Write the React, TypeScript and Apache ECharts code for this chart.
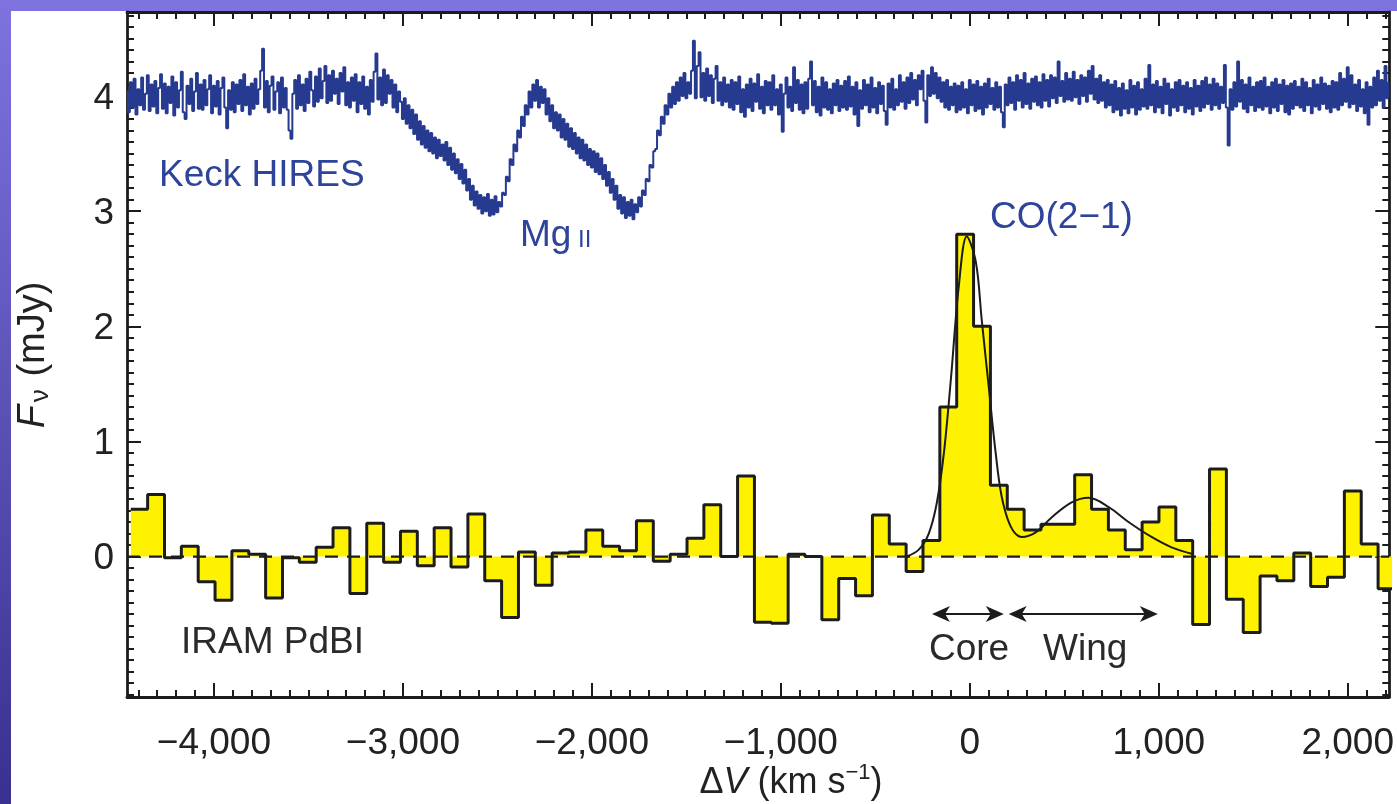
import React, { useEffect, useRef } from 'react';
import * as echarts from 'echarts';

// ---- axis ranges & ticks ----
const X_MIN = -4460;
const X_MAX = 2220;
const Y_MIN = -1.22;
const Y_MAX = 4.73;
const xMajorTicks = [-4000, -3000, -2000, -1000, 0, 1000, 2000];
const yMajorTicks = [0, 1, 2, 3, 4];

// ---- Keck HIRES spectrum (mJy, offset), sampled every 10 km/s from -4460 ----
const hiresStart = -4460;
const hiresStep = 10;
const hiresFlux = [
  4.04, 3.86, 4.12, 3.90, 4.15, 3.84, 4.06, 3.92, 4.16, 3.88, 4.02, 4.18, 3.87, 4.10, 3.91, 4.13, 3.85, 4.07, 4.19, 3.89,
  4.11, 3.85, 4.08, 3.94, 4.17, 3.83, 4.12, 3.90, 4.05, 4.21, 3.86, 3.80, 4.09, 3.93, 4.15, 3.87, 4.04, 4.20, 3.89, 4.10,
  3.88, 4.14, 3.92, 4.06, 4.18, 3.85, 4.09, 3.91, 4.13, 3.84, 4.07, 4.16, 3.90, 3.72, 4.05, 3.88, 4.12, 3.86, 4.10, 3.93,
  4.14, 3.87, 4.19, 3.92, 4.08, 3.84, 4.11, 3.89, 4.15, 3.93, 4.06, 4.22, 4.41, 3.90, 4.13, 3.86, 4.09, 4.17, 3.88, 4.04,
  4.12, 3.85, 4.16, 3.90, 4.07, 3.88, 3.70, 3.63, 4.02, 4.14, 3.89, 4.18, 3.92, 4.10, 3.87, 4.15, 3.94, 4.21, 4.05, 3.91,
  4.17, 3.95, 4.24, 3.98, 4.13, 4.26, 3.94, 4.18, 3.96, 4.22, 4.02, 4.15, 3.93, 4.20, 4.04, 4.25, 3.92, 4.12, 3.90, 4.16,
  3.96, 4.19, 3.86, 4.12, 3.93, 4.17, 3.89, 4.08, 3.84, 4.14, 3.95, 4.21, 4.37, 3.97, 4.16, 3.92, 4.23, 3.94, 4.18, 4.02,
  4.14, 3.90, 4.10, 3.86, 4.04, 3.95, 3.80, 3.98, 3.76, 3.92, 3.72, 3.88, 3.67, 3.84, 3.62, 3.78, 3.58, 3.74, 3.55, 3.70,
  3.52, 3.68, 3.50, 3.64, 3.46, 3.62, 3.48, 3.58, 3.44, 3.60, 3.40, 3.55, 3.36, 3.50, 3.33, 3.45, 3.28, 3.41, 3.24, 3.36,
  3.18, 3.28, 3.10, 3.22, 3.05, 3.17, 3.02, 3.14, 2.98, 3.12, 3.00, 3.15, 2.96, 3.10, 2.97, 3.13, 2.99, 3.08, 3.04, 3.16,
  3.14, 3.30, 3.26, 3.45, 3.40, 3.58, 3.52, 3.70, 3.64, 3.82, 3.74, 3.92, 3.84, 4.04, 3.90, 4.10, 3.96, 4.14, 3.90, 4.08,
  3.94, 4.06, 3.84, 3.98, 3.78, 3.92, 3.72, 3.86, 3.70, 3.84, 3.64, 3.80, 3.62, 3.76, 3.56, 3.72, 3.54, 3.68, 3.50, 3.64,
  3.46, 3.62, 3.44, 3.58, 3.40, 3.54, 3.38, 3.52, 3.34, 3.50, 3.32, 3.46, 3.28, 3.40, 3.22, 3.34, 3.16, 3.28, 3.10, 3.22,
  3.02, 3.14, 2.98, 3.12, 2.94, 3.08, 2.96, 3.10, 2.93, 3.06, 2.99, 3.12, 3.04, 3.18, 3.14, 3.28, 3.26, 3.40, 3.38, 3.52,
  3.54, 3.70, 3.66, 3.82, 3.76, 3.92, 3.84, 4.02, 3.90, 4.08, 3.93, 4.12, 3.96, 4.16, 4.00, 4.20, 3.98, 4.12, 4.02, 4.22,
  4.48, 3.98, 4.26, 4.38, 3.99, 4.20, 3.96, 4.24, 4.00, 4.18, 3.94, 4.15, 4.26, 3.96, 4.12, 3.92, 4.16, 3.95, 4.10, 3.90,
  4.14, 3.88, 4.12, 3.93, 4.17, 3.86, 4.06, 3.82, 4.10, 3.90, 4.15, 3.87, 4.11, 3.95, 4.19, 3.89, 4.08, 3.85, 4.13, 3.92,
  4.12, 3.88, 4.18, 3.92, 4.06, 3.84, 4.10, 3.69, 4.02, 4.16, 3.90, 4.08, 3.87, 4.25, 3.94, 4.14, 3.88, 4.10, 3.85, 4.12,
  3.89, 4.15, 4.30, 3.92, 4.13, 3.86, 4.08, 3.83, 4.16, 3.90, 4.12, 3.88, 4.06, 3.85, 4.11, 3.92, 4.14, 3.87, 4.09, 3.90,
  4.13, 3.88, 4.17, 3.91, 4.08, 3.84, 4.12, 3.74, 4.05, 3.89, 4.14, 3.92, 4.10, 3.86, 4.16, 3.90, 4.07, 3.85, 4.12, 3.93,
  4.09, 3.87, 3.75, 4.11, 3.90, 4.15, 3.88, 4.06, 3.92, 4.18, 3.95, 4.12, 3.89, 4.16, 3.94, 4.20, 3.97, 4.14, 3.92, 4.18,
  4.06, 4.22, 3.96, 3.77, 4.18, 4.00, 4.25, 4.02, 4.20, 3.98, 4.16, 3.95, 4.12, 3.90, 4.14, 3.88, 4.08, 3.92, 4.11, 3.86,
  4.09, 3.88, 4.12, 3.90, 4.06, 3.85, 4.14, 3.92, 4.10, 3.87, 4.13, 3.89, 4.08, 3.84, 4.11, 3.90, 4.15, 3.93, 4.07, 3.88,
  4.12, 3.90, 4.08, 3.86, 3.73, 4.10, 3.92, 4.16, 3.94, 4.12, 3.88, 4.18, 3.96, 4.14, 3.90, 4.20, 3.93, 4.11, 3.89, 4.15,
  3.95, 4.17, 3.92, 4.12, 3.90, 4.19, 3.96, 4.14, 3.91, 4.18, 3.98, 4.16, 3.94, 4.30, 4.00, 4.13, 3.95, 4.20, 3.97, 4.15,
  3.96, 4.21, 3.99, 4.14, 3.93, 4.18, 4.00, 4.16, 3.95, 4.22, 4.02, 4.26, 3.97, 4.15, 3.94, 4.18, 3.96, 4.12, 3.90, 4.14,
  3.92, 4.10, 3.86, 4.13, 3.88, 4.07, 3.83, 4.11, 3.89, 4.05, 3.85, 4.14, 3.90, 4.09, 3.84, 4.12, 3.88, 4.06, 3.91, 4.15,
  3.89, 4.27, 3.92, 4.10, 3.86, 4.13, 3.90, 4.08, 3.85, 4.15, 3.93, 4.11, 3.83, 4.06, 3.90, 4.12, 3.87, 4.14, 3.92, 4.09,
  3.86, 4.12, 3.89, 4.07, 3.84, 4.14, 3.91, 4.09, 3.87, 4.13, 3.90, 4.16, 3.93, 4.10, 3.88, 4.15, 3.92, 4.11, 3.89, 4.08,
  3.94, 4.27, 3.90, 3.57, 4.06, 3.88, 4.12, 3.91, 4.30, 3.95, 4.14, 3.89, 4.10, 3.86, 4.16, 3.92, 4.08, 3.87, 4.12, 3.90,
  4.13, 3.88, 4.16, 3.91, 4.08, 3.85, 4.12, 3.90, 4.15, 3.87, 4.10, 3.93, 4.14, 3.86, 4.09, 3.84, 4.11, 3.89, 4.13, 3.92,
  4.08, 3.90, 4.15, 3.87, 4.12, 3.92, 4.07, 3.85, 4.14, 3.91, 4.10, 3.88, 4.16, 3.93, 4.11, 3.89, 4.09, 3.86, 4.13, 3.90,
  4.12, 3.88, 4.20, 3.92, 4.15, 3.95, 4.25, 3.90, 4.18, 3.93, 4.10, 3.87, 4.14, 3.91, 4.06, 3.85, 4.12, 3.75, 4.08, 3.90,
  4.16, 3.92, 4.22, 3.96, 4.14, 3.90, 4.26, 3.98, 4.12,
];

// ---- IRAM PdBI CO(2-1) channels: first channel edge and width (km/s) ----
const pdbiStart = -4440;
const pdbiWidth = 89.2;
const pdbiFlux = [
  0.41, 0.54, -0.01, 0.09, -0.22, -0.38, 0.05, 0.02, -0.36, -0.01,
  -0.05, 0.08, 0.25, -0.32, 0.29, -0.05, 0.22, -0.08, 0.25, -0.09,
  0.37, -0.21, -0.53, 0.04, -0.25, 0.03, 0.04, 0.23, 0.09, 0.05,
  0.31, -0.04, 0.02, 0.16, 0.45, 0.0, 0.70, -0.57, -0.58, 0.02,
  0.0, -0.55, -0.19, -0.34, 0.36, 0.11, -0.13, 0.14, 1.30, 2.80,
  2.00, 0.62, 0.41, 0.23, 0.28, 0.28, 0.71, 0.41, 0.23, 0.06,
  0.30, 0.43, 0.14, -0.59, 0.76, -0.37, -0.66, -0.17, -0.21, 0.03,
  -0.26, -0.18, 0.57, 0.11, -0.28,
];

// ---- two-component fit curve ----
const fitVelocity = [-333, -270, -217, -174, -137, -100, -58, -16, 32, 63, 100, 137, 169, 217, 275, 349, 433, 539, 629, 735, 840, 962, 1068, 1184];
const fitFlux = [0.0, 0.06, 0.2, 0.47, 0.9, 1.54, 2.35, 2.78, 2.56, 2.06, 1.48, 0.9, 0.52, 0.26, 0.17, 0.21, 0.34, 0.47, 0.51, 0.43, 0.30, 0.17, 0.08, 0.02];

// ---- Core / Wing velocity ranges (arrow tips) ----
const coreRange = [-200, 180];
const wingRange = [206, 995];
const arrowLevel = -0.5;

const FONT = '"Liberation Sans", Arial, Helvetica, sans-serif';
const INK = '#1c1c1c';
const BLUE = '#2d449a';

function fmtThousands(v: number): string {
  const s = Math.abs(v).toLocaleString('en-US');
  return v < 0 ? '\u2212' + s : s;
}

export default function App() {
  const ref = useRef<HTMLDivElement>(null);

  useEffect(() => {
    if (!ref.current) return;
    const chart = echarts.init(ref.current, null, { renderer: 'svg' });

    const hiresData = hiresFlux.map((v, i) => [hiresStart + i * hiresStep, v]);
    const pdbiData = pdbiFlux.map((v, i) => [pdbiStart + i * pdbiWidth, v]);
    pdbiData.push([pdbiStart + pdbiFlux.length * pdbiWidth, pdbiFlux[pdbiFlux.length - 1]]);
    const fitData = fitVelocity.map((v, i) => [v, fitFlux[i]]);

    const xMinor: number[] = [];
    for (let v = -4400; v <= 2200; v += 100) xMinor.push(v);
    const yMinor: number[] = [];
    for (let k = -12; k <= 47; k++) yMinor.push(Math.round(k * 10) / 100);

    const lineStyle = { color: INK, width: 2.8 };
    const tickStyle = { color: INK, width: 2 };

    const mkX = (position: string, ticks: number[], len: number, labels: boolean, line: boolean) => ({
      type: 'value', position, min: X_MIN, max: X_MAX,
      axisLine: { show: line, onZero: false, lineStyle },
      axisTick: { show: true, inside: true, length: len, customValues: ticks, lineStyle: tickStyle },
      axisLabel: labels
        ? { show: true, customValues: xMajorTicks, formatter: fmtThousands, fontSize: 37, color: '#222', margin: 26, fontFamily: FONT }
        : { show: false },
      splitLine: { show: false },
    });
    const mkY = (position: string, ticks: number[], len: number, labels: boolean, line: boolean) => ({
      type: 'value', position, min: Y_MIN, max: Y_MAX,
      axisLine: { show: line, onZero: false, lineStyle },
      axisTick: { show: true, inside: true, length: len, customValues: ticks, lineStyle: tickStyle },
      axisLabel: labels
        ? { show: true, customValues: yMajorTicks, fontSize: 37, color: '#222', margin: 13, fontFamily: FONT }
        : { show: false },
      splitLine: { show: false },
    });

    // arrowheads are centred on the marked point: pull the line ends in by half a head
    const headLen = 18;
    const kmPerPx = (X_MAX - X_MIN) / (1397 - 127 - 6);
    const inset = (headLen / 2) * kmPerPx;
    const arrowHead = 'path://M0,0L10,22L0,16L-10,22Z';

    chart.setOption({
      animation: false,
      grid: { left: 127, right: 6, top: 12, bottom: 107, containLabel: false },
      graphic: [
        {
          type: 'rect', z: -100, silent: true,
          shape: { x: 0, y: 0, width: 1397, height: 804 },
          style: {
            fill: new echarts.graphic.LinearGradient(0, 0, 0, 1, [
              { offset: 0, color: '#7e73df' },
              { offset: 1, color: '#38318f' },
            ]),
          },
        },
        { type: 'rect', z: -99, silent: true, shape: { x: 11, y: 11, width: 1386, height: 793 }, style: { fill: '#ffffff' } },
        { type: 'text', x: 159, y: 173, style: { text: 'Keck HIRES', font: `37px ${FONT}`, fill: BLUE, verticalAlign: 'middle' } },
        {
          type: 'text', x: 520, y: 233,
          style: {
            text: '{a|Mg}{b| II}', fill: BLUE, verticalAlign: 'middle',
            rich: { a: { fontSize: 37, fontFamily: FONT, fill: BLUE }, b: { fontSize: 24, fontFamily: FONT, fill: BLUE, padding: [10, 0, 0, 0] } },
          },
        },
        { type: 'text', x: 990, y: 215, style: { text: 'CO(2\u22121)', font: `37px ${FONT}`, fill: BLUE, verticalAlign: 'middle' } },
        { type: 'text', x: 181, y: 640, style: { text: 'IRAM PdBI', font: `37px ${FONT}`, fill: '#2a2a2a', verticalAlign: 'middle' } },
        { type: 'text', x: 929, y: 647, style: { text: 'Core', font: `37px ${FONT}`, fill: '#2a2a2a', verticalAlign: 'middle' } },
        { type: 'text', x: 1043, y: 647, style: { text: 'Wing', font: `37px ${FONT}`, fill: '#2a2a2a', verticalAlign: 'middle' } },
        {
          type: 'text', x: 791, y: 780,
          style: {
            text: '{n|\u0394}{i|V}{n| (km s}{s|\u22121}{n|)}', fill: '#222', align: 'center', verticalAlign: 'middle',
            rich: {
              n: { fontSize: 36, fontFamily: FONT, fill: '#222' },
              i: { fontSize: 36, fontFamily: FONT, fontStyle: 'italic', fill: '#222' },
              s: { fontSize: 22, fontFamily: FONT, fill: '#222', padding: [0, 0, 18, 0] },
            },
          },
        },
        {
          type: 'text', x: 31, y: 355, rotation: Math.PI / 2,
          style: {
            text: '{i|F}{s|\u03bd}{n| (mJy)}', fill: '#222', align: 'center', verticalAlign: 'middle',
            rich: {
              n: { fontSize: 38, fontFamily: FONT, fill: '#222' },
              i: { fontSize: 38, fontFamily: FONT, fontStyle: 'italic', fill: '#222' },
              s: { fontSize: 26, fontFamily: FONT, fill: '#222', padding: [16, 2, 0, 3] },
            },
          },
        },
      ],
      xAxis: [
        mkX('bottom', xMajorTicks, 14, true, true),
        mkX('bottom', xMinor, 7, false, false),
        mkX('top', xMajorTicks, 14, false, true),
        mkX('top', xMinor, 7, false, false),
      ],
      yAxis: [
        mkY('left', yMajorTicks, 14, true, true),
        mkY('left', yMinor, 7, false, false),
        mkY('right', yMajorTicks, 14, false, true),
        mkY('right', yMinor, 7, false, false),
      ],
      series: [
        {
          name: 'IRAM PdBI', type: 'line', step: 'end', data: pdbiData, symbol: 'none', z: 3,
          lineStyle: { color: INK, width: 3 },
          areaStyle: { color: '#fff200', opacity: 1, origin: 'auto' },
        },
        {
          name: 'zero', type: 'line', data: [[X_MIN, 0], [X_MAX, 0]], symbol: 'none', z: 4,
          lineStyle: { color: INK, width: 2.2, type: [13, 9] },
        },
        {
          name: 'fit', type: 'line', data: fitData, symbol: 'none', smooth: 0.35, z: 5,
          lineStyle: { color: INK, width: 2 },
          markLine: {
            silent: true, symbol: [arrowHead, arrowHead], symbolSize: [16, headLen],
            label: { show: false },
            lineStyle: { color: INK, width: 2, type: 'solid' },
            data: [
              [{ coord: [coreRange[0] + inset, arrowLevel] }, { coord: [coreRange[1] - inset, arrowLevel] }],
              [{ coord: [wingRange[0] + inset, arrowLevel] }, { coord: [wingRange[1] - inset, arrowLevel] }],
            ],
          },
        },
        {
          name: 'Keck HIRES', type: 'line', step: 'middle', data: hiresData, symbol: 'none', z: 6,
          lineStyle: { color: '#263a90', width: 2 },
        },
      ],
    });

    return () => chart.dispose();
  }, []);

  return <div ref={ref} style={{ position: 'fixed', left: 0, top: 0, width: 1397, height: 804 }} />;
}
